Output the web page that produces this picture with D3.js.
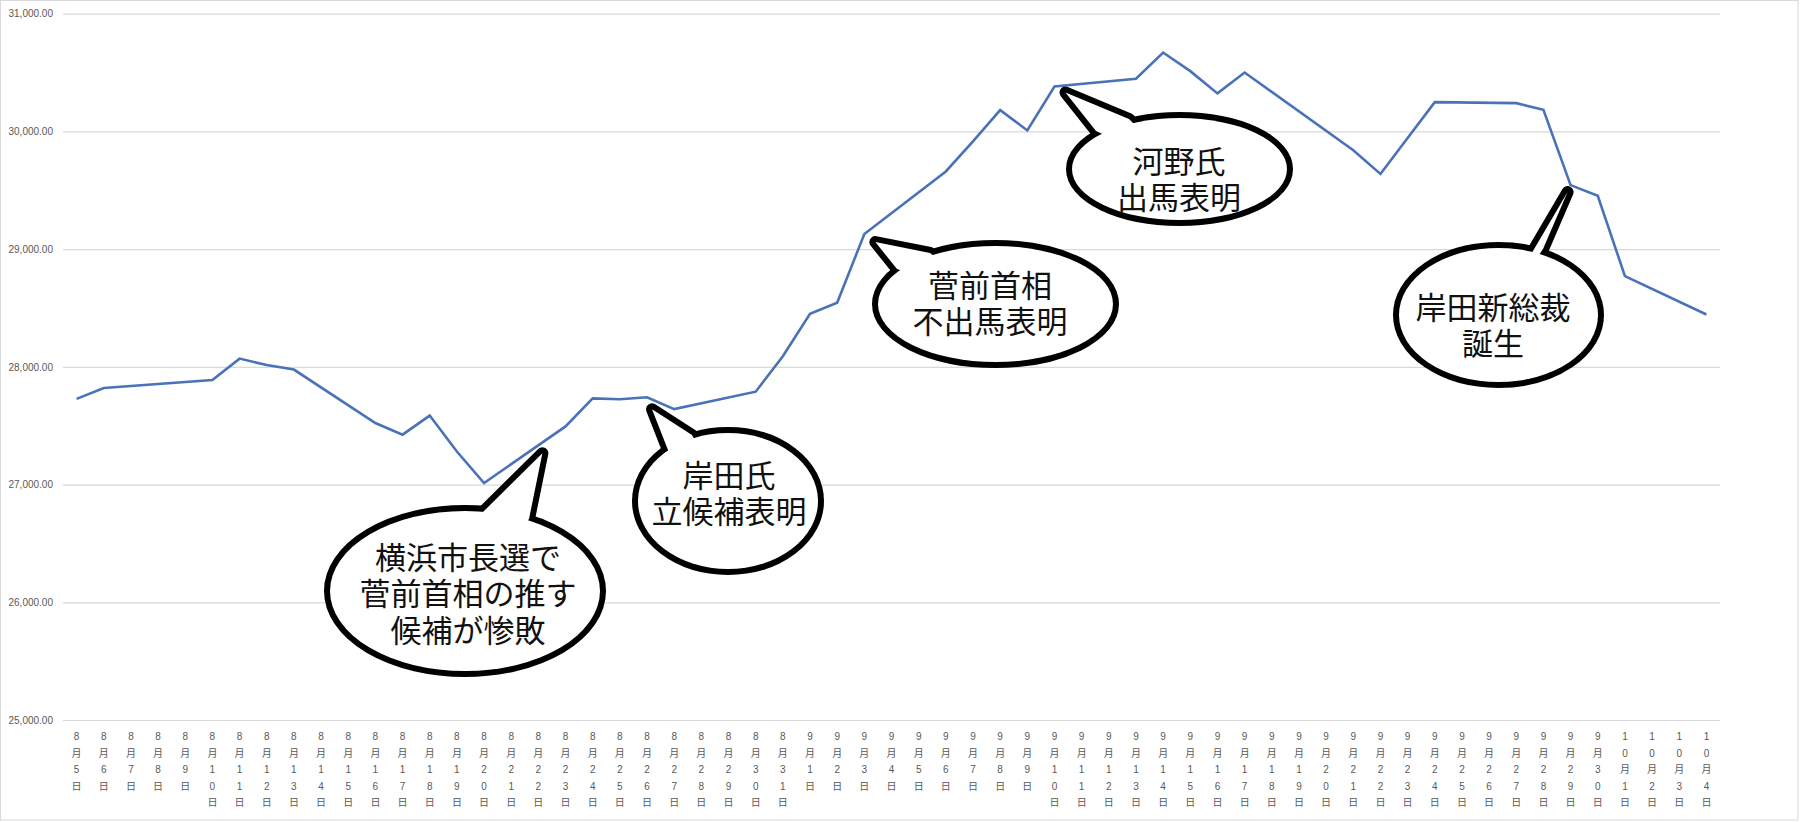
<!DOCTYPE html>
<html>
<head>
<meta charset="utf-8">
<script src="https://cdn.jsdelivr.net/npm/d3@7"></script>
<style>
  html, body { margin: 0; padding: 0; background: #fff; }
  svg { display: block; }
</style>
</head>
<body>
<svg id="chart" width="1800" height="822"></svg>
<script>
// all calendar days on the category axis
var dates = [
  "8月5日","8月6日","8月7日","8月8日","8月9日","8月10日","8月11日","8月12日","8月13日","8月14日",
  "8月15日","8月16日","8月17日","8月18日","8月19日","8月20日","8月21日","8月22日","8月23日","8月24日",
  "8月25日","8月26日","8月27日","8月28日","8月29日","8月30日","8月31日",
  "9月1日","9月2日","9月3日","9月4日","9月5日","9月6日","9月7日","9月8日","9月9日","9月10日",
  "9月11日","9月12日","9月13日","9月14日","9月15日","9月16日","9月17日","9月18日","9月19日","9月20日",
  "9月21日","9月22日","9月23日","9月24日","9月25日","9月26日","9月27日","9月28日","9月29日","9月30日",
  "10月1日","10月2日","10月3日","10月4日"
];

// trading days and closing values
var tradeDates = [
  "8月5日","8月6日","8月10日","8月11日","8月12日","8月13日","8月16日","8月17日","8月18日","8月19日",
  "8月20日","8月23日","8月24日","8月25日","8月26日","8月27日","8月30日","8月31日",
  "9月1日","9月2日","9月3日","9月6日","9月7日","9月8日","9月9日","9月10日","9月13日","9月14日",
  "9月15日","9月16日","9月17日","9月21日","9月22日","9月24日","9月27日","9月28日","9月29日","9月30日",
  "10月1日","10月4日"
];
var closes = [
  27728, 27820, 27888, 28070, 28015, 27977, 27523, 27424, 27586, 27281,
  27013, 27494, 27732, 27725, 27742, 27641, 27789, 28090,
  28451, 28544, 29128, 29660, 29916, 30181, 30008, 30382, 30447, 30670,
  30512, 30323, 30500, 29840, 29639, 30249, 30240, 30184, 29544, 29453,
  28771, 28445
];

var yTicks = [25000, 26000, 27000, 28000, 29000, 30000, 31000];

// callout texts and the point each one points at
var noteLines = [
  ["横浜市長選で", "菅前首相の推す", "候補が惨敗"],
  ["岸田氏", "立候補表明"],
  ["菅前首相", "不出馬表明"],
  ["河野氏", "出馬表明"],
  ["岸田新総裁", "誕生"]
];
var noteDates = ["8月22日", "8月26日", "9月3日", "9月10日", "9月29日"];
var noteValues = [27334, 27742, 29128, 30382, 29544];

// bubble layout (pixels)
var bubbles = [
  { tip: [4, 8],   base: [[483, 512], [529, 519]], cx: 465,    cy: 591, rx: 135,   ry: 80, tx: 468,  ty: 555 },
  { tip: [5, 12],  base: [[668, 450], [692, 435]], cx: 728,    cy: 501, rx: 90,    ry: 68, tx: 729,  ty: 473 },
  { tip: [11, 8],  base: [[897, 269], [930, 253]], cx: 995.5,  cy: 304, rx: 117.5, ry: 58, tx: 990,  ty: 283 },
  { tip: [11, 6],  base: [[1096, 131], [1129, 119]], cx: 1179.5, cy: 169, rx: 107.5, ry: 51, tx: 1179, ty: 159 },
  { tip: [-3, 7],  base: [[1533, 251], [1543, 249]], cx: 1498.5, cy: 315, rx: 99.5,  ry: 67, tx: 1493, ty: 305 }
];

var svg = d3.select("#chart");
var plotLeft = 63, plotRight = 1720, plotTop = 13.7, plotBottom = 720;

svg.append("rect")
  .attr("x", 0.5).attr("y", 0.5)
  .attr("width", 1797.5).attr("height", 819.5)
  .attr("fill", "#fff")
  .attr("stroke", "#d9d9d9");

var x = d3.scaleBand().domain(dates).range([plotLeft, plotRight]);
var bw = x.bandwidth();
function cx(d) { return x(d) + bw / 2; }
var y = d3.scaleLinear().domain([25000, 31000]).range([plotBottom, plotTop]);

// y axis + gridlines
var yAxis = svg.append("g")
  .attr("transform", "translate(" + plotLeft + ",0)")
  .call(d3.axisLeft(y).tickValues(yTicks).tickSize(-(plotRight - plotLeft)).tickPadding(10).tickFormat(d3.format(",.2f")));
yAxis.select(".domain").remove();
yAxis.selectAll(".tick line").attr("stroke", "#d9d9d9").attr("stroke-width", 1.2);
yAxis.selectAll(".tick text")
  .attr("fill", "#595959")
  .style("font-family", "'Liberation Sans', Arial, sans-serif")
  .style("font-size", "10px");

// x axis: one character per line
var xAxis = svg.append("g")
  .attr("transform", "translate(0," + plotBottom + ")")
  .call(d3.axisBottom(x).tickSize(0).tickFormat(""));
xAxis.select(".domain").remove();
xAxis.selectAll(".tick").each(function (d) {
  var t = d3.select(this).append("text")
    .attr("y", 20)
    .attr("fill", "#595959")
    .attr("text-anchor", "middle")
    .style("font-family", "'Liberation Sans', 'Noto Sans CJK JP', sans-serif")
    .style("font-size", "10px");
  Array.from(d).forEach(function (ch, i) {
    t.append("tspan").attr("x", 0).attr("dy", i === 0 ? 0 : 16.6).text(ch);
  });
});

// series line
var series = tradeDates.map(function (d, i) { return { date: d, value: closes[i] }; });
var line = d3.line().x(function (d) { return cx(d.date); }).y(function (d) { return y(d.value); });
svg.append("path")
  .datum(series)
  .attr("d", line)
  .attr("fill", "none")
  .attr("stroke", "#4a72b8")
  .attr("stroke-width", 2.6)
  .attr("stroke-linejoin", "miter");

// speech bubbles
bubbles.forEach(function (b, i) {
  var tx = cx(noteDates[i]) + b.tip[0];
  var ty = y(noteValues[i]) + b.tip[1];
  var pts = [b.base[0], [tx, ty], b.base[1], [b.cx, b.cy]];
  var g = svg.append("g");
  // thick outline underneath, white fill on top hides the inner half
  [["#000", 12], ["#fff", 0]].forEach(function (s) {
    g.append("ellipse")
      .attr("cx", b.cx).attr("cy", b.cy).attr("rx", b.rx).attr("ry", b.ry)
      .attr("fill", s[0]).attr("stroke", s[1] ? "#000" : "none").attr("stroke-width", s[1]);
    g.append("polygon")
      .attr("points", pts.map(function (p) { return p.join(","); }).join(" "))
      .attr("fill", s[0]).attr("stroke", s[1] ? "#000" : "none").attr("stroke-width", s[1])
      .attr("stroke-linejoin", "round");
  });
  var t = g.append("text")
    .attr("text-anchor", "middle")
    .attr("fill", "#111")
    .style("font-family", "'Noto Sans CJK JP', sans-serif")
    .style("font-size", "31px");
  noteLines[i].forEach(function (s, k) {
    t.append("tspan")
      .attr("x", b.tx)
      .attr("y", b.ty + k * 36.5)
      .attr("dominant-baseline", "central")
      .text(s);
  });
});
</script>
</body>
</html>
